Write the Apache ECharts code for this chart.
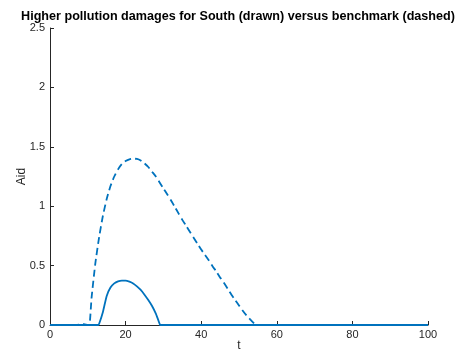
<!DOCTYPE html>
<html><head><meta charset="utf-8">
<script src="https://cdn.jsdelivr.net/npm/echarts@6/dist/echarts.min.js"></script>
<style>html,body{margin:0;padding:0;background:#fff;overflow:hidden}#c{width:463px;height:352px}</style>
</head><body><div id="c"></div>
<script>
var titleText = 'Higher pollution damages for South (drawn) versus benchmark (dashed)';
var xTicks = [0, 20, 40, 60, 80, 100];
var yTicks = [0, 0.5, 1, 1.5, 2, 2.5];
// South (drawn)
var southT = [0, 5, 10, 12, 12.8, 13, 14, 15, 16, 17, 18, 19, 20, 21, 22, 23, 24, 25, 26, 27, 28, 29, 29.1, 30, 40, 50, 60, 70, 80, 90, 100];
var southAid = [0, 0, 0, 0, 0, 0.01, 0.11, 0.245, 0.315, 0.35, 0.367, 0.374, 0.374, 0.365, 0.35, 0.325, 0.295, 0.255, 0.21, 0.16, 0.095, 0.01, 0, 0, 0, 0, 0, 0, 0, 0, 0];
// Benchmark (dashed)
var benchT = [0, 5, 7, 8, 9, 10, 10.4, 11, 12, 13, 14, 15, 16, 17, 18, 19, 20, 21, 22, 23, 24, 25, 26, 27, 28, 29, 30, 31, 32, 33, 34, 35, 36, 37, 38, 39, 40, 41, 42, 43, 44, 45, 46, 47, 48, 49, 50, 51, 52, 53, 54, 54.3, 60, 70, 80, 90, 100];
var benchAid = [0, 0, 0, 0.006, 0.008, 0, 0, 0.23, 0.52, 0.74, 0.92, 1.06, 1.17, 1.25, 1.31, 1.355, 1.38, 1.395, 1.40, 1.398, 1.385, 1.36, 1.33, 1.29, 1.25, 1.20, 1.15, 1.10, 1.05, 0.995, 0.94, 0.885, 0.835, 0.785, 0.735, 0.685, 0.635, 0.59, 0.545, 0.495, 0.45, 0.40, 0.355, 0.305, 0.255, 0.21, 0.165, 0.12, 0.08, 0.045, 0.012, 0, 0, 0, 0, 0, 0];

function pairs(t, v) { return t.map(function (x, i) { return [x, v[i]]; }); }

var font = 'Liberation Sans, Arial, Helvetica, sans-serif';
var axisColor = '#262626';
var el = document.getElementById('c');
var chart = echarts.init(el, null, {renderer: 'canvas'});
chart.setOption({
  animation: false,
  backgroundColor: '#ffffff',
  graphic: [{
    type: 'text', x: 238, y: 17, z: 10,
    style: {text: titleText, fontFamily: font, fontSize: 12.6, fontWeight: 'bold', fill: '#000',
      align: 'center', verticalAlign: 'middle'}
  }],
  grid: {left: 50, right: 35, top: 28, bottom: 27, containLabel: false, outerBoundsMode: 'none'},
  xAxis: {
    type: 'value', min: 0, max: 100, interval: 20,
    name: 't', nameLocation: 'middle', nameGap: 15, nameMoveOverlap: false,
    nameTextStyle: {fontFamily: font, fontSize: 12, color: axisColor},
    axisLine: {show: true, onZero: false, lineStyle: {color: axisColor, width: 1}},
    axisTick: {show: true, inside: true, length: 4, lineStyle: {color: axisColor}},
    axisLabel: {fontFamily: font, fontSize: 11, color: axisColor, margin: 4,
      formatter: function (v) { return xTicks.indexOf(v) >= 0 ? String(v) : ''; }},
    splitLine: {show: false}
  },
  yAxis: {
    type: 'value', min: 0, max: 2.5, interval: 0.5,
    name: 'Aid', nameLocation: 'middle', nameGap: 22, nameRotate: 90, nameMoveOverlap: false,
    nameTextStyle: {fontFamily: font, fontSize: 12, color: axisColor},
    axisLine: {show: true, onZero: false, lineStyle: {color: axisColor, width: 1}},
    axisTick: {show: true, inside: true, length: 4, lineStyle: {color: axisColor}},
    axisLabel: {fontFamily: font, fontSize: 11, color: axisColor, margin: 5,
      formatter: function (v) { return yTicks.indexOf(v) >= 0 ? String(v) : ''; }},
    splitLine: {show: false}
  },
  series: [
    {type: 'line', data: pairs(southT, southAid), showSymbol: false, smooth: 0.2,
      lineStyle: {color: '#0072BD', width: 1.8}, z: 2},
    {type: 'line', data: pairs(benchT, benchAid), showSymbol: false, smooth: 0.2,
      lineStyle: {color: '#0072BD', width: 1.8, type: [7, 4]}, z: 3}
  ]
});
</script></body></html>
